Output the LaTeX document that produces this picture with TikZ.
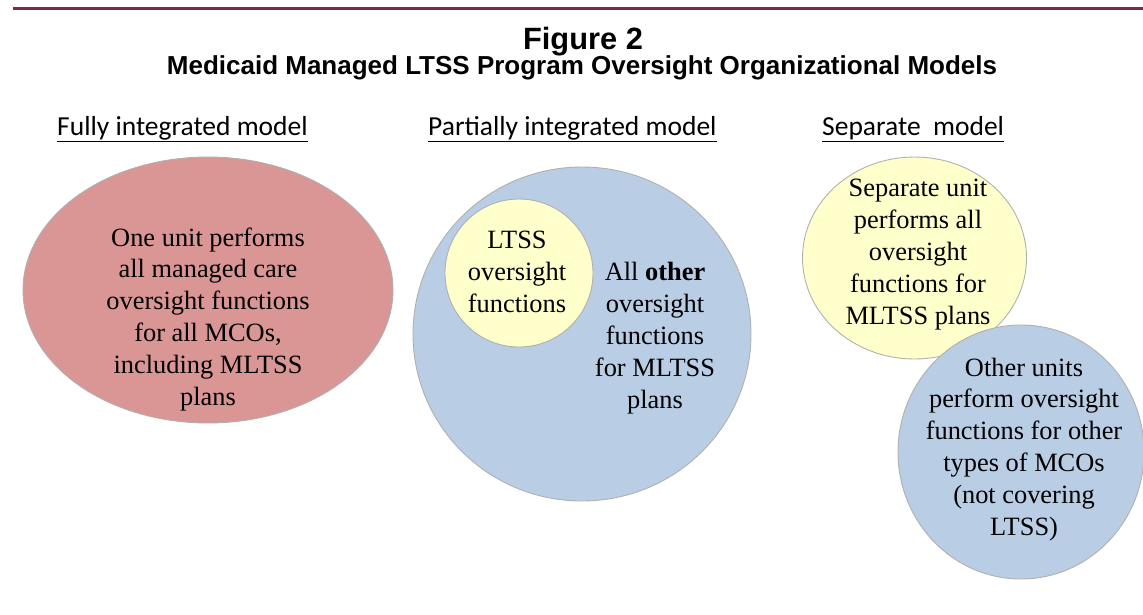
\documentclass[tikz,border=0pt]{standalone}
\usepackage{fontspec}
\setmainfont{Liberation Serif}
\newfontfamily\titlefont{Liberation Sans}
\newfontfamily\headfont{Carlito}
\definecolor{topline}{RGB}{122,45,62}
\definecolor{redfill}{RGB}{217,150,148}
\definecolor{bluefill}{RGB}{185,205,229}
\definecolor{yellowfill}{RGB}{255,255,204}
\definecolor{rimgray}{RGB}{176,176,176}
\begin{document}
\begin{tikzpicture}[x=1pt,y=-1pt,
  blob/.style={draw=rimgray,line width=0.9pt},
  bodytext/.style={align=center,inner sep=0pt,anchor=base,
    font=\fontsize{26.4}{31.8}\selectfont},
  headtext/.style={inner sep=0pt,anchor=base west,
    font=\headfont\fontsize{27.5}{32}\selectfont},
  titletext/.style={inner sep=0pt,anchor=base}]
\useasboundingbox (0,0) rectangle (1143,614);
\coordinate (lineL) at (13,8.7);
\coordinate (lineR) at (1143,8.7);
\draw[topline,line width=2.8pt] (lineL) -- (lineR);
\node[titletext,font=\titlefont\bfseries\fontsize{30.8}{36}\selectfont] (fig) at (583,49) {Figure 2};
\node[titletext,font=\titlefont\bfseries\fontsize{26}{30}\selectfont] (sub) at (582,74) {Medicaid Managed LTSS Program Oversight Organizational Models};
% headers
\node[headtext] (h1) at (57,135) {\underline{Fully integrated model}};
\node[headtext] (h2) at (428,135) {\underline{Partially integrated model}};
\node[headtext] (h3) at (822,135) {\underline{Separate\ \ model}};
% fully integrated
\path[blob,fill=redfill] (208,290) ellipse [x radius=185,y radius=133];
\node[bodytext] (t1) at (208,405) {One unit performs\\all managed care\\oversight functions\\for all MCOs,\\including MLTSS\\plans};
% partially integrated
\path[blob,fill=bluefill] (582,334) ellipse [x radius=169,y radius=167];
\path[blob,fill=yellowfill] (519,273) circle [radius=74];
\node[bodytext] (t2) at (517,312) {LTSS\\oversight\\functions};
\node[bodytext] (t3) at (655,408) {All \textbf{other}\\oversight\\functions\\for MLTSS\\plans};
% separate
\path[blob,fill=yellowfill] (914.5,258) ellipse [x radius=112,y radius=101];
\path[blob,fill=bluefill] (1021,452) ellipse [x radius=123,y radius=127];
\node[bodytext] (t4) at (918,324) {Separate unit\\performs all\\oversight\\functions for\\MLTSS plans};
\node[bodytext] (t5) at (1024,535) {Other units\\perform oversight\\functions for other\\types of MCOs\\(not covering\\LTSS)};
\end{tikzpicture}
\end{document}
